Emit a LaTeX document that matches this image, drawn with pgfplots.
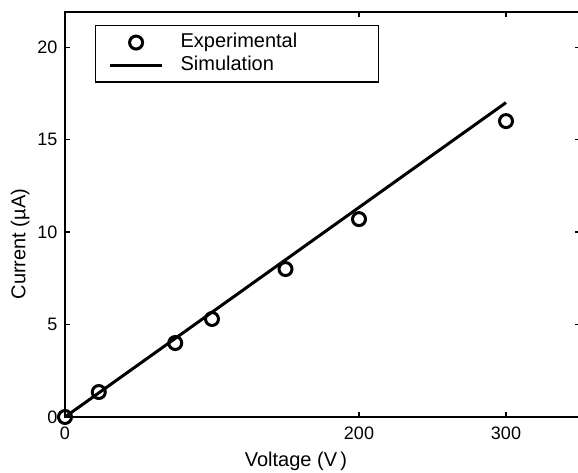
\documentclass[border=0pt]{standalone}
\usepackage{pgfplots}
\pgfplotsset{compat=1.18}
\usepackage{fontspec}
\setmainfont{Liberation Sans}
\pgfplotsset{
  mylegmark/.style={legend image code/.code={\draw[mark repeat=2,mark phase=2,##1] plot coordinates {(0pt,0pt) (26pt,0pt) (52pt,0pt)};}},
  myleglines/.style={legend image code/.code={\draw[##1] (0pt,0pt) -- (52pt,0pt);}},
}
\begin{document}
\begin{tikzpicture}
\useasboundingbox (-65pt,-56pt) rectangle (513pt,417pt);
\begin{axis}[
  scale only axis=true,
  width=514.5pt, height=405pt,
  xmin=0, xmax=350, ymin=0, ymax=21.9,
  xtick={0,200,300}, ytick={0,5,10,15,20},
  tick align=inside,
  major tick length=5pt,
  axis line style={line width=1.6pt},
  tick style={line width=1.2pt, black},
  /pgf/number format/assume math mode=true,
  tick label style={font=\fontsize{18}{20}\selectfont},
  xticklabel style={yshift=-6.5pt},
  yticklabel style={xshift=-4pt},
  xlabel={Voltage (V\,)},
  ylabel={Current (µA)},
  label style={font=\fontsize{20}{22}\selectfont},
  xlabel style={at={(ticklabel cs:0.449)}, anchor=north, yshift=-5pt},
  ylabel style={at={(ticklabel cs:0.427)}, anchor=south, yshift=1pt},
  legend style={at={(0.0583,0.968)}, anchor=north west,
    draw=black, line width=1.2pt,
    inner xsep=13pt, inner ysep=7pt,
    row sep=2.5pt, column sep=16pt,
    font=\fontsize{20}{22}\selectfont,
    nodes={inner sep=1pt, text height=14pt, text depth=4pt}},
  legend cell align=left,
]
\addplot[only marks, mark=o, mark size=6.5pt, line width=3pt, black, mylegmark]
  coordinates {(0,0) (23,1.35) (75,4.0) (100,5.3) (150,8.0) (200,10.7) (300,16.0)};
\addlegendentry{\makebox[184pt][l]{Experimental}}
\addplot[black, line width=3pt, myleglines]
  coordinates {(0,0) (300,17)};
\addlegendentry{\makebox[184pt][l]{Simulation}}
\end{axis}
\end{tikzpicture}
\end{document}
